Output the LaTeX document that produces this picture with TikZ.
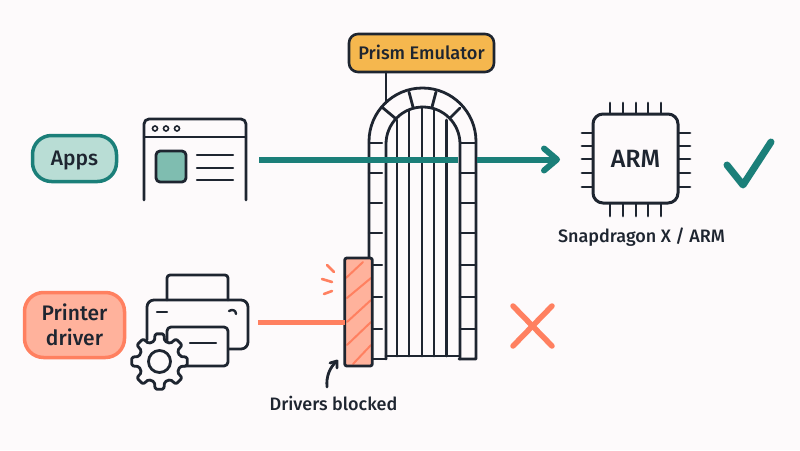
\documentclass[tikz,border=0pt]{standalone}
\usepackage{fontspec}
\setmainfont{Fira Sans Medium}
\usetikzlibrary{arrows.meta}
\definecolor{paper}{HTML}{FDFAFB}
\definecolor{ink}{HTML}{1E2530}
\definecolor{teal}{HTML}{1B7F79}
\definecolor{tealpale}{HTML}{B9DDD5}
\definecolor{tealmid}{HTML}{7FBDB0}
\definecolor{coral}{HTML}{FF8060}
\definecolor{coralpale}{HTML}{FFB29C}
\definecolor{amber}{HTML}{F5B74E}
\tikzset{
  x=1pt,y=-1pt,
  every node/.style={inner sep=0pt,outer sep=0pt,text=ink},
  outline/.style={draw=ink,line width=2.8pt,line cap=round,line join=round},
  thinline/.style={draw=ink,line width=2.4pt,line cap=round,line join=round},
  pill/.style={rounded corners=19pt,line width=3.5pt,align=center,font=\fontsize{21}{25}\selectfont},
  caption/.style={font=\fontsize{18}{21}\selectfont},
  spark/.style={draw=coral,line width=2.6pt,line cap=round},
  hatch/.style={draw=coral,line width=2pt,line cap=round},
}
\begin{document}
\begin{tikzpicture}
\useasboundingbox[fill=paper] (0,0) rectangle (800,450);

% Source labels
\node[pill,draw=teal,fill=tealpale,minimum width=84pt,minimum height=46pt,text height=13.5pt,text depth=0pt] (apps) at (74.5,158.5) {Apps};
\node[pill,draw=coral,fill=coralpale,minimum width=100pt,minimum height=65pt] (driver) at (74.5,325) {Printer\\driver};

% Application window
\draw[outline,rounded corners=5pt] (144,200) -- (144,119) -- (246,119) -- (246,200);
\draw[thinline] (144,137) -- (246,137);
\foreach \px in {155,166,177}
  \draw[ink,line width=1.6pt] (\px,128.5) circle (2.5);
\draw[outline,fill=tealmid,rounded corners=4pt] (156,151) rectangle (186,182);
\foreach \py in {155,168,180}
  \draw[thinline] (197,\py) -- (233,\py);

% Printer with settings gear
\draw[outline,rounded corners=3pt] (167,300) -- (167,275) -- (228,275) -- (228,300);
\draw[outline,rounded corners=7pt] (147,340) -- (147,300) -- (248,300) -- (248,349) -- (228,349);
\draw[thinline] (157,312) -- (167,312);
\draw[thinline] (229,311) .. controls (232,309) and (236,310) .. (236,314);
\draw[outline,fill=paper,rounded corners=4pt] (167,366) -- (167,327) -- (228,327) -- (228,366) -- cycle;
\draw[thinline] (190,343) -- (216,343);
\begin{scope}[shift={(159.5,361.5)}]
  \draw[outline,fill=paper,rounded corners=1.5pt]
    (0-14:21) \foreach \a in {0,45,...,315} {
      -- (\a-14:21) -- (\a-9:28) -- (\a+9:28) -- (\a+14:21)
    } -- cycle;
  \draw[outline,fill=paper] (0,0) circle (11);
\end{scope}

% Arch: voussoirs, side columns and inner bars
\draw[outline] (369,359) -- (369,141.5) arc[start angle=180,end angle=360,radius=53.5] -- (476,359) -- (459,359);
\draw[outline] (386,359) -- (386,144) arc[start angle=180,end angle=360,radius=37] -- (460,359);
\draw[outline] (369,359) -- (386,359);
\draw[outline] (386,356) -- (459,356);
\foreach \ax/\ay/\bx/\by in {383/108/395/118,409/92/413/107,436/92/432/107,460/108/450/118}
  \draw[outline] (\ax,\ay) -- (\bx,\by);
\foreach \bx/\by in {397/120,409/110,422/107,434/110,446.5/120}
  \draw[outline] (\bx,\by) -- (\bx,356);
\foreach \jy in {143,173,203,233,265,297,329} {
  \draw[thinline] (369,\jy) -- (382,\jy);
  \draw[thinline] (460,\jy) -- (476,\jy);
}

% Emulator label and its leader
\node[draw=ink,fill=amber,line width=2.6pt,rounded corners=9pt,minimum width=145pt,minimum height=38pt,text height=12.6pt,text depth=0pt,font=\fontsize{18.2}{22}\selectfont] (prism) at (421.5,53) {Prism Emulator};
\coordinate (archtop) at (386,103);
\draw[outline] (prism.south -| archtop) -- (archtop);

% ARM chip
\node[draw=ink,line width=3pt,rounded corners=10pt,minimum width=85pt,minimum height=89pt,text height=17.6pt,text depth=0pt,font=\fontsize{25}{28}\selectfont] (chip) at (635.5,158.5) {ARM};
\foreach \px in {610,623,636,648,661} {
  \draw[outline] (\px,103) -- (\px,113);
  \draw[outline] (\px,204) -- (\px,216);
}
\foreach \py in {133,146,159,173,187} {
  \draw[outline] (582,\py) -- (592,\py);
  \draw[outline] (679,\py) -- (690,\py);
}
\node[caption] (soc) at (641.5,237) {Snapdragon X / ARM};

% Path that gets through the arch
\coordinate (appstart) at (259,159.5);
\coordinate (archin) at (458,159.5);
\coordinate (archout) at (477,159.5);
\coordinate (chipin) at (560,159.5);
\draw[teal,line width=6pt] (appstart) -- (archin);
\draw[teal,line width=6pt,-{Straight Barb[round,length=13pt,width=22pt]}] (archout) -- (chipin);

% Blocked path
\node[fill=coralpale,minimum width=27.5pt,minimum height=108pt] (blocker) at (358.5,312) {};
\foreach \ax/\ay/\bx/\by in {346/278/363/262,347/298/371/278,347/322/371/300,347/345/371/322,353/364/371/345}
  \draw[hatch] (\ax,\ay) -- (\bx,\by);
\draw[outline,rounded corners=2pt] (blocker.north west) rectangle (blocker.south east);
\coordinate (driverout) at (258,322);
\draw[coral,line width=5pt] (driverout) -- (driverout -| blocker.west);
\draw[spark] (327,265) -- (334,272);
\draw[spark] (322,279) -- (332,282);
\draw[spark] (324,294) -- (332,291);

% Caption and pointer for the blocker
\node[caption] (blocked) at (333.5,403) {Drivers blocked};
\coordinate (pointerstart) at (327,387);
\coordinate (pointertip) at (337,361);
\draw[outline] (pointerstart) .. controls (326,376) and (330,367) .. (pointertip);
\draw[outline] (330,363) -- (pointertip) -- (337,368);

% Outcome marks
\draw[teal,line width=7pt,line cap=round,line join=round] (727,165) -- (743,185) -- (771,142);
\draw[coral,line width=5.5pt,line cap=round] (513,306) -- (552,346);
\draw[coral,line width=5.5pt,line cap=round] (552,306) -- (513,346);
\end{tikzpicture}
\end{document}
